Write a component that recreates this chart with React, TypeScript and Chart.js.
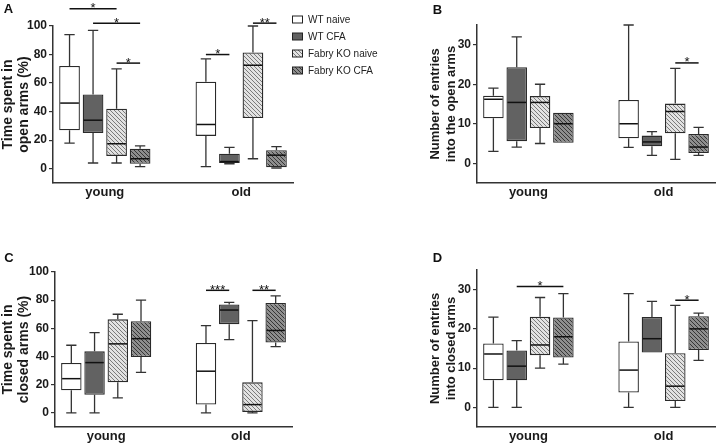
import React, { useEffect, useRef } from 'react';
import { Chart, registerables } from 'chart.js';

Chart.register(...registerables);

const FONT = "'Liberation Sans', Arial, Helvetica, sans-serif";

const categories = ['young', 'old'];
const seriesNames = ['WT naive', 'WT CFA', 'Fabry KO naive', 'Fabry KO CFA'];

// Each entry: [min, q1, median, q3, max] for [young, old]
// Panel A: time spent in open arms (%)
const openTimeWTNaive = [[18, 27, 46, 72, 94], [1.5, 23, 31, 61, 77]];
const openTimeWTCFA = [[4, 25, 34, 52, 97], [3.5, 4, 5, 10.5, 15]];
const openTimeKONaive = [[4, 9, 17.5, 42, 70], [7, 35.5, 72.5, 81.5, 100]];
const openTimeKOCFA = [[1.5, 3.5, 7, 14, 16], [0.5, 1, 9.5, 13, 15.5]];

// Panel B: number of entries into the open arms
const openEntWTNaive = [[3, 11.4, 16.2, 17.1, 19], [4, 6.3, 10, 16, 35]];
const openEntWTCFA = [[4.1, 5.6, 15.4, 24.3, 32], [2, 4.3, 5.4, 7, 8]];
const openEntKONaive = [[5, 8.9, 15.4, 17, 20], [1, 7.6, 13.1, 15.1, 24]];
const openEntKOCFA = [[5.2, 5.2, 10, 12.8, 12.8], [2, 2.6, 4.1, 7.4, 9.1]];

// Panel C: time spent in closed arms (%)
const closedTimeWTNaive = [[0, 16, 24.3, 35.5, 48], [0, 6, 29.6, 49.6, 62]];
const closedTimeWTCFA = [[0, 12.8, 35.7, 43.7, 57], [52, 63, 73, 77, 78.5]];
const closedTimeKONaive = [[10.6, 21.7, 49, 66.4, 70], [0, 0.7, 5.9, 21.7, 65.5]];
const closedTimeKOCFA = [[28.8, 39.7, 52.7, 65, 80], [47, 50, 58.5, 78, 83]];

// Panel D: number of entries into closed arms
const closedEntWTNaive = [[0, 6.9, 13.6, 16.3, 23], [0, 3.8, 9.5, 16.8, 29]];
const closedEntWTCFA = [[0, 6.9, 10.5, 14.5, 17], [14, 14, 17.5, 23, 27]];
const closedEntKONaive = [[10, 13.3, 15.9, 23.1, 28], [0, 1.6, 5.4, 13.8, 26]];
const closedEntKOCFA = [[11, 12.7, 18, 22.9, 29], [12, 14.6, 20, 23.2, 24]];

// Tick labels
const percentTicks = [0, 20, 40, 60, 80, 100];
const countTicks = [0, 10, 20, 30];

// Significance brackets: category index, from series, to series, value height, label
type Sig = { cat: number; from: number; to: number; y: number; label: string };
const openTimeSig: Sig[] = [
  { cat: 0, from: 0, to: 2, y: 112, label: '*' },
  { cat: 0, from: 1, to: 3, y: 102, label: '*' },
  { cat: 0, from: 2, to: 3, y: 74, label: '*' },
  { cat: 1, from: 0, to: 1, y: 80, label: '*' },
  { cat: 1, from: 2, to: 3, y: 102, label: '**' },
];
const openEntSig: Sig[] = [{ cat: 1, from: 2, to: 3, y: 25.4, label: '*' }];
const closedTimeSig: Sig[] = [
  { cat: 1, from: 0, to: 1, y: 87, label: '***' },
  { cat: 1, from: 2, to: 3, y: 87, label: '**' },
];
const closedEntSig: Sig[] = [
  { cat: 0, from: 1, to: 3, y: 30.8, label: '*' },
  { cat: 1, from: 2, to: 3, y: 27.3, label: '*' },
];

type PanelCfg = {
  letter: string;
  letterX: number;
  letterY: number;
  left: number;
  top: number;
  w: number;
  h: number;
  padding: { left: number; top: number; right: number; bottom: number };
  yWidth: number;
  xHeight: number;
  min: number;
  max: number;
  ticks: number[];
  title: string[];
  titleSize: number;
  stats: number[][][];
  sig: Sig[];
  legend: boolean;
};

const panels: PanelCfg[] = [
  {
    letter: 'A', letterX: 8.5, letterY: 9, left: 0, top: 0, w: 380, h: 215,
    padding: { left: 0, top: 26, right: 87, bottom: 0 }, yWidth: 53, xHeight: 32,
    min: -10, max: 100, ticks: percentTicks, title: ['Time spent in', 'open arms (%)'], titleSize: 14,
    stats: [openTimeWTNaive, openTimeWTCFA, openTimeKONaive, openTimeKOCFA], sig: openTimeSig, legend: true,
  },
  {
    letter: 'B', letterX: 57.5, letterY: 10, left: 380, top: 0, w: 336, h: 215,
    padding: { left: 47, top: 25, right: 1, bottom: 0 }, yWidth: 50, xHeight: 32,
    min: -5, max: 35, ticks: countTicks, title: ['Number of entries', 'into the open arms'], titleSize: 13,
    stats: [openEntWTNaive, openEntWTCFA, openEntKONaive, openEntKOCFA], sig: openEntSig, legend: false,
  },
  {
    letter: 'C', letterX: 9, letterY: 28.5, left: 0, top: 230, w: 300, h: 216,
    padding: { left: 0, top: 42, right: 8, bottom: 0 }, yWidth: 55, xHeight: 19,
    min: -10, max: 100, ticks: percentTicks, title: ['Time spent in', 'closed arms (%)'], titleSize: 14,
    stats: [closedTimeWTNaive, closedTimeWTCFA, closedTimeKONaive, closedTimeKOCFA], sig: closedTimeSig, legend: false,
  },
  {
    letter: 'D', letterX: 57.5, letterY: 28.5, left: 380, top: 230, w: 336, h: 216,
    padding: { left: 47, top: 40, right: 1, bottom: 0 }, yWidth: 50, xHeight: 19,
    min: -5, max: 35, ticks: countTicks, title: ['Number of entries', 'into closed arms'], titleSize: 13,
    stats: [closedEntWTNaive, closedEntWTCFA, closedEntKONaive, closedEntKOCFA], sig: closedEntSig, legend: false,
  },
];

// fraction of a category left empty at each end of the x axis
const EDGE = 0.38;

function hatch(bg: string, fg: string): CanvasPattern | string {
  const c = document.createElement('canvas');
  c.width = 4;
  c.height = 4;
  const g = c.getContext('2d');
  if (!g) return bg;
  g.fillStyle = bg;
  g.fillRect(0, 0, 4, 4);
  g.strokeStyle = fg;
  g.lineWidth = 1;
  g.beginPath();
  g.moveTo(0, 0); g.lineTo(4, 4);
  g.moveTo(-1, 3); g.lineTo(1, 5);
  g.moveTo(3, -1); g.lineTo(5, 1);
  g.stroke();
  return g.createPattern(c, 'repeat') || bg;
}

function makePlugin(p: PanelCfg, fills: (string | CanvasPattern)[]) {
  return {
    id: 'boxExtras' + p.letter,
    afterDatasetsDraw(chart: any) {
      const ctx: CanvasRenderingContext2D = chart.ctx;
      const ys = chart.scales.y;
      const py = (v: number) => ys.getPixelForValue(v);
      ctx.save();
      // whiskers and medians
      p.stats.forEach((series, di) => {
        const meta = chart.getDatasetMeta(di);
        series.forEach((s, ci) => {
          const bar = meta.data[ci];
          if (!bar) return;
          const { x, width } = bar.getProps(['x', 'width'], true);
          const [mn, q1, md, q3, mx] = s;
          const half = width / 2;
          const cap = width / 4;
          ctx.strokeStyle = '#333';
          ctx.lineWidth = 1.3;
          ctx.beginPath();
          if (mx > q3) {
            ctx.moveTo(x, py(q3)); ctx.lineTo(x, py(mx));
            ctx.moveTo(x - cap, py(mx)); ctx.lineTo(x + cap, py(mx));
          }
          if (mn < q1) {
            ctx.moveTo(x, py(q1)); ctx.lineTo(x, py(mn));
            ctx.moveTo(x - cap, py(mn)); ctx.lineTo(x + cap, py(mn));
          }
          ctx.stroke();
          ctx.strokeStyle = '#111';
          ctx.lineWidth = 1.5;
          ctx.beginPath();
          ctx.moveTo(x - half + 1, py(md)); ctx.lineTo(x + half - 1, py(md));
          ctx.stroke();
        });
      });
      // significance brackets
      p.sig.forEach((s) => {
        const b1 = chart.getDatasetMeta(s.from).data[s.cat];
        const b2 = chart.getDatasetMeta(s.to).data[s.cat];
        if (!b1 || !b2) return;
        const x1 = b1.x;
        const x2 = b2.x;
        const y = py(s.y);
        ctx.strokeStyle = '#111';
        ctx.lineWidth = 1.5;
        ctx.beginPath();
        ctx.moveTo(x1, y); ctx.lineTo(x2, y);
        ctx.stroke();
        ctx.fillStyle = '#111';
        ctx.font = `13px ${FONT}`;
        ctx.textAlign = 'center';
        ctx.textBaseline = 'alphabetic';
        ctx.fillText(s.label, (x1 + x2) / 2, y + 3.5);
      });
      // panel letter
      ctx.fillStyle = '#111';
      ctx.font = `bold 13px ${FONT}`;
      ctx.textAlign = 'center';
      ctx.textBaseline = 'middle';
      ctx.fillText(p.letter, p.letterX, p.letterY);
      // legend
      if (p.legend) {
        const lx = chart.chartArea.right - 1;
        const ly0 = 19.5;
        const step = 17;
        seriesNames.forEach((name, i) => {
          const cy = ly0 + i * step;
          ctx.fillStyle = fills[i] as any;
          ctx.fillRect(lx, cy - 3.5, 11, 7);
          ctx.strokeStyle = '#222';
          ctx.lineWidth = 1;
          ctx.strokeRect(lx + 0.5, cy - 3.5, 10, 7);
          ctx.fillStyle = '#222';
          ctx.font = `10px ${FONT}`;
          ctx.textAlign = 'left';
          ctx.textBaseline = 'middle';
          ctx.fillText(name, lx + 16, cy + 0.5);
        });
      }
      ctx.restore();
    },
  };
}

function buildConfig(p: PanelCfg): any {
  const fills = ['#ffffff', '#626262', hatch('#e2e2e2', '#7a7a7a'), hatch('#8e8e8e', '#363636')];
  return {
    type: 'bar',
    data: {
      labels: categories,
      datasets: p.stats.map((s, i) => ({
        label: seriesNames[i],
        data: s.map((v) => [v[1], v[3]]),
        backgroundColor: fills[i],
        borderColor: '#2a2a2a',
        borderWidth: 1.3,
        borderSkipped: false,
        categoryPercentage: 0.69,
        barPercentage: 0.88,
      })),
    },
    options: {
      responsive: false,
      animation: false,
      events: [],
      layout: { padding: p.padding },
      plugins: { legend: { display: false }, tooltip: { enabled: false } },
      scales: {
        x: {
          type: 'category',
          offset: true,
          afterBuildTicks: (s: any) => {
            s._startValue = -EDGE;
            s._valueRange = categories.length - 1 + 2 * EDGE;
          },
          grid: { display: false, drawTicks: false },
          border: { display: true, color: '#333', width: 1.5 },
          ticks: {
            font: { family: FONT, size: 13, weight: 'bold' },
            color: '#1a1a1a',
            padding: 2,
            maxRotation: 0,
            autoSkip: false,
          },
          afterFit: (s: any) => { s.height = p.xHeight; },
        },
        y: {
          type: 'linear',
          min: p.min,
          max: p.max,
          afterBuildTicks: (s: any) => { s.ticks = p.ticks.map((v) => ({ value: v })); },
          afterFit: (s: any) => { s.width = p.yWidth; },
          grid: { display: true, drawOnChartArea: false, drawTicks: true, tickLength: 4, color: '#333', lineWidth: 1.2 },
          border: { display: true, color: '#333', width: 1.5 },
          ticks: {
            font: { family: FONT, size: 12, weight: 'bold' },
            color: '#1a1a1a',
            padding: 2,
          },
          title: {
            display: true,
            text: p.title,
            font: { family: FONT, size: p.titleSize, weight: 'bold', lineHeight: 16 / p.titleSize },
            color: '#1a1a1a',
            padding: { top: 0.5, bottom: 0 },
          },
        },
      },
    },
    plugins: [makePlugin(p, fills)],
  };
}

function Panel({ cfg }: { cfg: PanelCfg }) {
  const ref = useRef<HTMLCanvasElement>(null);
  useEffect(() => {
    if (!ref.current) return;
    const chart = new Chart(ref.current, buildConfig(cfg));
    return () => chart.destroy();
  }, [cfg]);
  return (
    <canvas
      ref={ref}
      width={cfg.w}
      height={cfg.h}
      style={{ position: 'absolute', left: cfg.left, top: cfg.top, width: cfg.w, height: cfg.h }}
    />
  );
}

export default function App() {
  return (
    <div style={{ position: 'fixed', left: 0, top: 0, width: 716, height: 446, background: '#fff', overflow: 'hidden' }}>
      {panels.map((p) => (
        <Panel key={p.letter} cfg={p} />
      ))}
    </div>
  );
}
